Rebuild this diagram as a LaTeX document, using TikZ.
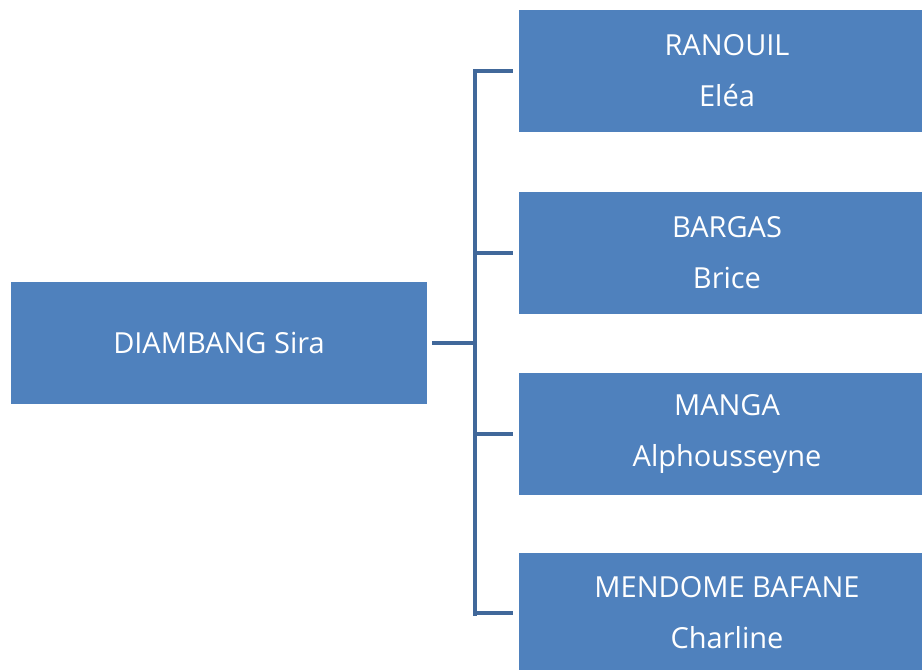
\documentclass[tikz,border=0pt]{standalone}
\usepackage{fontspec}
\setmainfont{Open Sans}
\definecolor{boxblue}{HTML}{4F81BD}
\definecolor{linkblue}{HTML}{41689A}
\begin{document}
\begin{tikzpicture}[x=1pt,y=-1pt,
  box/.style={fill=boxblue,draw=none,inner sep=0pt,text=white,align=center,
    font=\fontsize{29}{51}\selectfont},
  lbl/.style={text=white,align=center,inner sep=0pt,font=\fontsize{29}{51}\selectfont},
  link/.style={draw=linkblue,line width=4pt}]
\useasboundingbox (0,0) rectangle (922,670);
\node[box,minimum width=416pt,minimum height=122pt] (root) at (219,343) {DIAMBANG Sira};
\node[box,minimum width=403pt,minimum height=122pt] (c1) at (720.5,71) {};
\node[box,minimum width=403pt,minimum height=122pt] (c2) at (720.5,252.5) {};
\node[box,minimum width=403pt,minimum height=122pt] (c3) at (720.5,433.5) {};
\node[box,minimum width=403pt,minimum height=122pt,anchor=north] (c4) at (720.5,553) {};
\node[lbl] (t1) at (727,71) {RANOUIL\\Eléa};
\node[lbl] (t2) at (727,252.5) {BARGAS\\Brice};
\node[lbl] (t3) at (727,433.5) {MANGA\\Alphousseyne};
\node[lbl] (t4) at (727,613) {MENDOME BAFANE\\Charline};
\coordinate (j) at (474.5,343);
\draw[link] ([xshift=5pt]root.east) -- (j);
\draw[link,line cap=rect] (j |- c1) -- (j |- c4);
\draw[link] (j |- c1) -- ([xshift=-6pt]c1.west);
\draw[link] (j |- c2) -- ([xshift=-6pt]c2.west);
\draw[link] (j |- c3) -- ([xshift=-6pt]c3.west);
\draw[link] (j |- t4) -- ([xshift=-6pt]c4.west |- t4);
\end{tikzpicture}
\end{document}
